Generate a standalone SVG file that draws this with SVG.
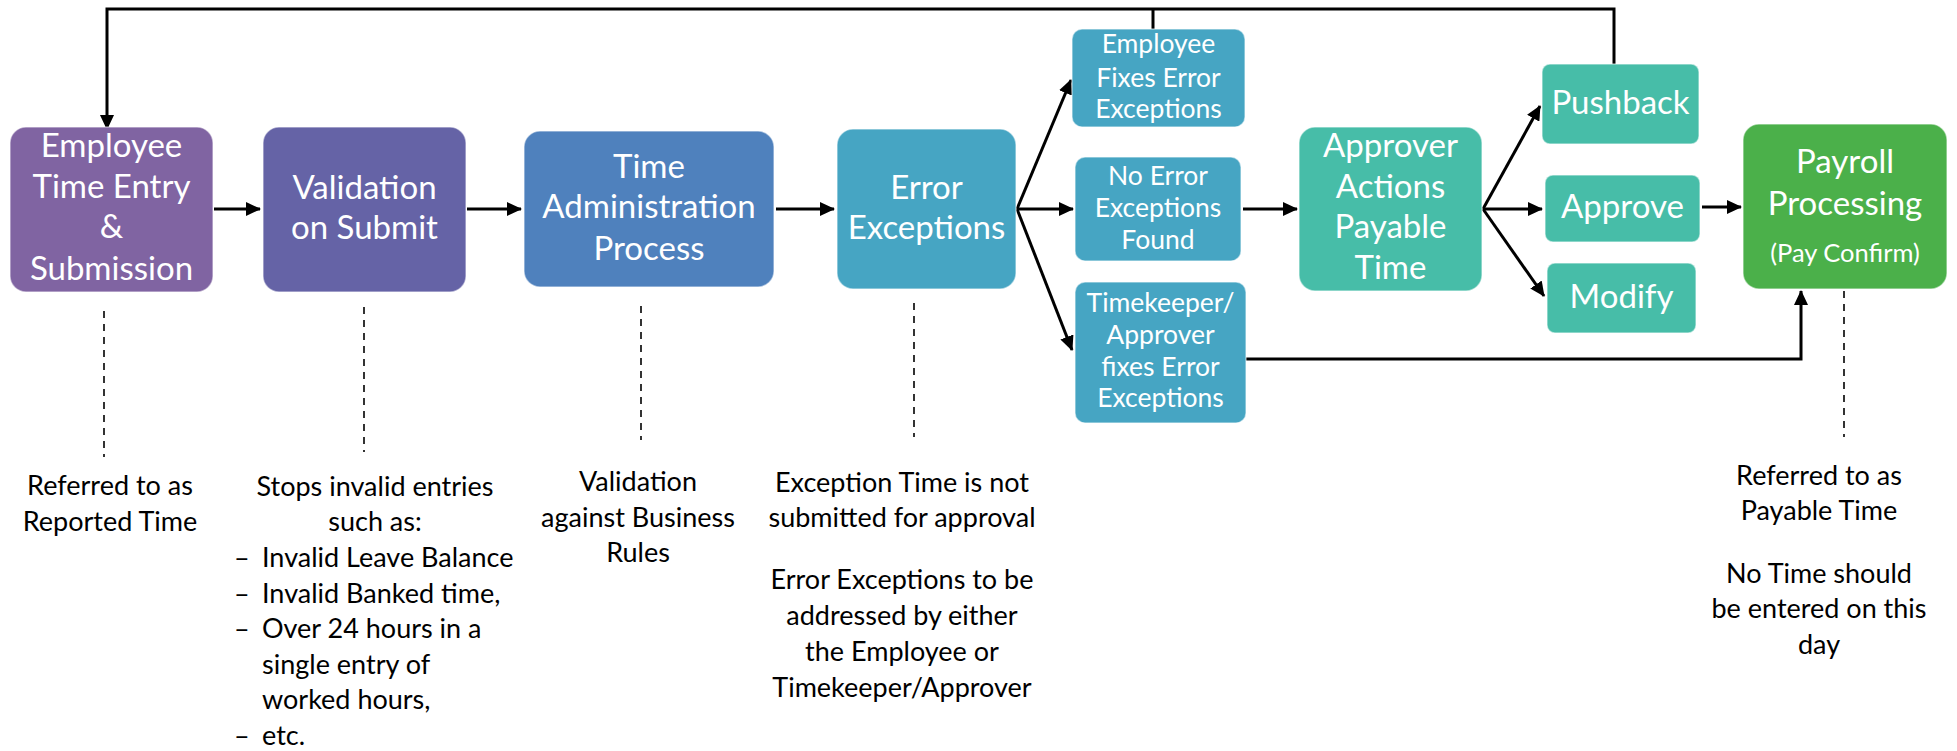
<svg xmlns="http://www.w3.org/2000/svg" width="1957" height="751" viewBox="0 0 1957 751">
  <style>
    .box { stroke: #ffffff; stroke-opacity: 0.5; stroke-width: 1.5; }
    .big { font-family: Lato, "Open Sans", sans-serif; font-size: 33px; fill: #ffffff; text-anchor: middle; }
    .small { font-family: Lato, "Open Sans", sans-serif; font-size: 26.5px; fill: #ffffff; text-anchor: middle; }
    .note { font-family: Lato, "Open Sans", sans-serif; font-size: 27px; fill: #000000; text-anchor: middle; }
    .note-left { font-family: Lato, "Open Sans", sans-serif; font-size: 27px; fill: #000000; }
    .conn { fill: none; stroke: #000000; stroke-width: 3; }
    .guide { fill: none; stroke: #000000; stroke-width: 1.6; stroke-dasharray: 7 6; }
  </style>
  <defs>
    <marker id="arrow" markerUnits="userSpaceOnUse" markerWidth="15" markerHeight="14" viewBox="0 0 15 14" refX="14" refY="7" orient="auto">
      <path d="M0,0 L15,7 L0,14 Z" fill="#000000"/>
    </marker>
  </defs>

  <rect width="1957" height="751" fill="#ffffff"/>

  <!-- connectors -->
  <g id="connectors">
    <path class="conn" d="M1614,66 V9 H107 V129" marker-end="url(#arrow)"/>
    <path class="conn" d="M1153,29 V9"/>
    <path class="conn" d="M214,209 H260" marker-end="url(#arrow)"/>
    <path class="conn" d="M467,209 H521" marker-end="url(#arrow)"/>
    <path class="conn" d="M776,209 H834" marker-end="url(#arrow)"/>
    <path class="conn" d="M1017,209 L1071,80" marker-end="url(#arrow)"/>
    <path class="conn" d="M1017,209 H1073" marker-end="url(#arrow)"/>
    <path class="conn" d="M1017,209 L1072,350" marker-end="url(#arrow)"/>
    <path class="conn" d="M1243,209 H1297" marker-end="url(#arrow)"/>
    <path class="conn" d="M1483,209 L1540,106" marker-end="url(#arrow)"/>
    <path class="conn" d="M1483,209 H1542" marker-end="url(#arrow)"/>
    <path class="conn" d="M1483,209 L1544,296" marker-end="url(#arrow)"/>
    <path class="conn" d="M1702,207 H1741" marker-end="url(#arrow)"/>
    <path class="conn" d="M1246,359 H1801 V291" marker-end="url(#arrow)"/>
    <!-- dashed guides to the notes -->
    <path class="guide" d="M104,311 V457"/>
    <path class="guide" d="M364,307 V452"/>
    <path class="guide" d="M641,306 V440"/>
    <path class="guide" d="M914,303 V437"/>
    <path class="guide" d="M1844,291 V437"/>
  </g>

  <g id="employee-time-entry">
    <rect class="box" x="10" y="127" width="203" height="165" rx="16" fill="#8064A2"/>
    <text class="big" x="111.5" y="157">Employee</text>
    <text class="big" x="111.5" y="198">Time Entry</text>
    <text class="big" x="111.5" y="238">&amp;</text>
    <text class="big" x="111.5" y="280">Submission</text>
  </g>

  <g id="validation-on-submit">
    <rect class="box" x="263" y="127" width="203" height="165" rx="16" fill="#6563A6"/>
    <text class="big" x="364.5" y="199">Validation</text>
    <text class="big" x="364.5" y="239">on Submit</text>
  </g>

  <g id="time-administration">
    <rect class="box" x="524" y="131" width="250" height="156" rx="16" fill="#4F81BD"/>
    <text class="big" x="649" y="178">Time</text>
    <text class="big" x="649" y="218">Administration</text>
    <text class="big" x="649" y="260">Process</text>
  </g>

  <g id="error-exceptions">
    <rect class="box" x="837" y="129" width="179" height="160" rx="16" fill="#46A5C3"/>
    <text class="big" x="926.5" y="199">Error</text>
    <text class="big" x="926.5" y="239">Exceptions</text>
  </g>

  <g id="employee-fixes">
    <rect class="box" x="1072" y="29" width="173" height="98" rx="10" fill="#46A5C3"/>
    <text class="small" x="1158.5" y="53">Employee</text>
    <text class="small" x="1158.5" y="87">Fixes Error</text>
    <text class="small" x="1158.5" y="118">Exceptions</text>
  </g>

  <g id="no-error-exceptions">
    <rect class="box" x="1075" y="157" width="166" height="104" rx="10" fill="#46A5C3"/>
    <text class="small" x="1158" y="185">No Error</text>
    <text class="small" x="1158" y="217">Exceptions</text>
    <text class="small" x="1158" y="249">Found</text>
  </g>

  <g id="timekeeper-fixes">
    <rect class="box" x="1075" y="282" width="171" height="141" rx="10" fill="#46A5C3"/>
    <text class="small" x="1160.5" y="312">Timekeeper/</text>
    <text class="small" x="1160.5" y="344">Approver</text>
    <text class="small" x="1160.5" y="376">fixes Error</text>
    <text class="small" x="1160.5" y="407">Exceptions</text>
  </g>

  <g id="approver-actions">
    <rect class="box" x="1299" y="127" width="183" height="164" rx="16" fill="#47BDA8"/>
    <text class="big" x="1390.5" y="157">Approver</text>
    <text class="big" x="1390.5" y="198">Actions</text>
    <text class="big" x="1390.5" y="238">Payable</text>
    <text class="big" x="1390.5" y="279">Time</text>
  </g>

  <g id="pushback">
    <rect class="box" x="1542" y="64" width="157" height="80" rx="8" fill="#47BDA8"/>
    <text class="big" x="1620.5" y="114">Pushback</text>
  </g>

  <g id="approve">
    <rect class="box" x="1545" y="175" width="155" height="67" rx="8" fill="#47BDA8"/>
    <text class="big" x="1622.5" y="218">Approve</text>
  </g>

  <g id="modify">
    <rect class="box" x="1547" y="263" width="149" height="70" rx="8" fill="#47BDA8"/>
    <text class="big" x="1621.5" y="308">Modify</text>
  </g>

  <g id="payroll-processing">
    <rect class="box" x="1743" y="124" width="204" height="165" rx="16" fill="#4BB04A"/>
    <text class="big" x="1845" y="173">Payroll</text>
    <text class="big" x="1845" y="215">Processing</text>
    <text class="big" x="1845" y="262" style="font-size:25.5px">(Pay Confirm)</text>
  </g>

  <!-- notes under the steps -->
  <g id="note-reported">
    <text class="note" x="110" y="495">Referred to as</text>
    <text class="note" x="110" y="531">Reported Time</text>
  </g>

  <g id="note-validation">
    <text class="note" x="375" y="496">Stops invalid entries</text>
    <text class="note" x="375" y="531">such as:</text>
    <text class="note-left" x="234" y="567">–</text>
    <text class="note-left" x="262" y="567">Invalid Leave Balance</text>
    <text class="note-left" x="234" y="603">–</text>
    <text class="note-left" x="262" y="603">Invalid Banked time,</text>
    <text class="note-left" x="234" y="638">–</text>
    <text class="note-left" x="262" y="638">Over 24 hours in a</text>
    <text class="note-left" x="262" y="674">single entry of</text>
    <text class="note-left" x="262" y="709">worked hours,</text>
    <text class="note-left" x="234" y="745">–</text>
    <text class="note-left" x="262" y="745">etc.</text>
  </g>

  <g id="note-business-rules">
    <text class="note" x="638" y="491">Validation</text>
    <text class="note" x="638" y="527">against Business</text>
    <text class="note" x="638" y="562">Rules</text>
  </g>

  <g id="note-exceptions">
    <text class="note" x="902" y="492">Exception Time is not</text>
    <text class="note" x="902" y="527">submitted for approval</text>
    <text class="note" x="902" y="589">Error Exceptions to be</text>
    <text class="note" x="902" y="625">addressed by either</text>
    <text class="note" x="902" y="661">the Employee or</text>
    <text class="note" x="902" y="697">Timekeeper/Approver</text>
  </g>

  <g id="note-payable">
    <text class="note" x="1819" y="485">Referred to as</text>
    <text class="note" x="1819" y="520">Payable Time</text>
    <text class="note" x="1819" y="583">No Time should</text>
    <text class="note" x="1819" y="618">be entered on this</text>
    <text class="note" x="1819" y="654">day</text>
  </g>
</svg>
